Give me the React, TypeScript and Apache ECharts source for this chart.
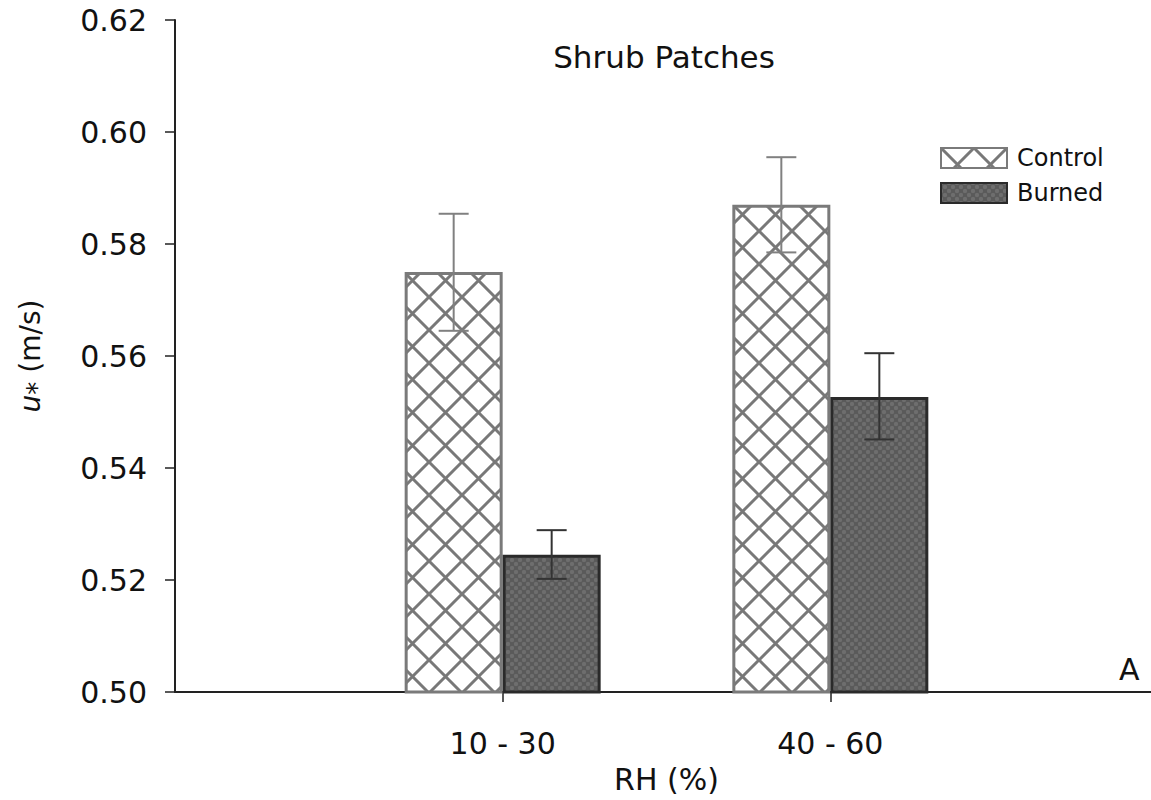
import React, { useEffect, useRef } from "react";
import * as echarts from "echarts";

const categories = ["", "10 - 30", "40 - 60", ""];
const controlValues = [null, 0.575, 0.587, null];
const burnedValues = [null, 0.5245, 0.5527, null];
const controlErr = [
  [1, 0.5645, 0.5854],
  [2, 0.5785, 0.5955],
];
const burnedErr = [
  [1, 0.5202, 0.5289],
  [2, 0.5451, 0.5605],
];
const yTicks = { min: 0.5, max: 0.62, interval: 0.02 };

const FONT = "DejaVu Sans";

function makeHatch(): HTMLCanvasElement {
  const P = 33;
  const c = document.createElement("canvas");
  c.width = P;
  c.height = P;
  const ctx = c.getContext("2d")!;
  ctx.fillStyle = "#ffffff";
  ctx.fillRect(0, 0, P, P);
  ctx.strokeStyle = "#787878";
  ctx.lineWidth = 3;
  for (let k = -1; k <= 1; k++) {
    ctx.beginPath();
    ctx.moveTo(k * P, 0);
    ctx.lineTo(k * P + P, P);
    ctx.moveTo(k * P + P, 0);
    ctx.lineTo(k * P, P);
    ctx.stroke();
  }
  return c;
}

function makeDots(): HTMLCanvasElement {
  const P = 8;
  const c = document.createElement("canvas");
  c.width = P;
  c.height = P;
  const ctx = c.getContext("2d")!;
  ctx.fillStyle = "#5a5a5a";
  ctx.fillRect(0, 0, P, P);
  ctx.fillStyle = "#6e6e6e";
  const pts = [
    [P / 2, P / 2],
    [0, 0],
    [P, 0],
    [0, P],
    [P, P],
  ];
  for (const [x, y] of pts) {
    ctx.beginPath();
    ctx.arc(x, y, 2.2, 0, Math.PI * 2);
    ctx.fill();
  }
  return c;
}

function errorSeries(name: string, data: number[][], offset: number, color: string) {
  return {
    type: "custom",
    name: name + " err",
    data,
    z: 10,
    silent: true,
    encode: { x: 0, y: [1, 2] },
    renderItem: (params: any, api: any) => {
      const idx = api.value(0);
      const lo = api.coord([idx, api.value(1)]);
      const hi = api.coord([idx, api.value(2)]);
      const x = lo[0] + offset;
      const half = 15;
      const style = { stroke: color, lineWidth: 2 };
      return {
        type: "group",
        children: [
          { type: "line", shape: { x1: x, y1: lo[1], x2: x, y2: hi[1] }, style },
          { type: "line", shape: { x1: x - half, y1: hi[1], x2: x + half, y2: hi[1] }, style },
          { type: "line", shape: { x1: x - half, y1: lo[1], x2: x + half, y2: lo[1] }, style },
        ],
      };
    },
  };
}

export default function App() {
  const ref = useRef<HTMLDivElement>(null);
  useEffect(() => {
    if (!ref.current) return;
    const chart = echarts.init(ref.current, undefined, { renderer: "svg" });
    const hatch = makeHatch();
    const dots = makeDots();
    const showIdx = (i: number) => i === 1 || i === 2;
    chart.setOption({
      animation: false,
      backgroundColor: "#ffffff",
      textStyle: { fontFamily: FONT },
      grid: { left: 175, right: 0, top: 20, bottom: 108, containLabel: false },
      title: {
        text: "Shrub Patches",
        left: 659,
        top: 36,
        textAlign: "center",
        textStyle: { fontFamily: FONT, fontSize: 31, fontWeight: "normal", color: "#111" },
      },
      legend: {
        left: 935,
        top: 141,
        orient: "vertical",
        itemWidth: 66,
        itemHeight: 20,
        itemGap: 11,
        icon: "rect",
        data: ["Control", "Burned"],
        textStyle: { fontFamily: FONT, fontSize: 24, color: "#111", padding: [0, 0, 0, 5], lineHeight: 24 },
      },
      xAxis: {
        type: "category",
        data: categories,
        boundaryGap: false,
        name: "RH (%)",
        nameLocation: "middle",
        nameGap: 72,
        nameTextStyle: { fontFamily: FONT, fontSize: 30, color: "#111" },
        axisLine: { show: true, lineStyle: { color: "#222", width: 2 } },
        axisTick: { show: true, length: 10, interval: (i: number) => showIdx(i), lineStyle: { color: "#222", width: 1.5 } },
        axisLabel: {
          interval: (i: number) => showIdx(i),
          margin: 36,
          fontFamily: FONT,
          fontSize: 30,
          color: "#111",
        },
        splitLine: { show: false },
      },
      yAxis: {
        type: "value",
        min: yTicks.min,
        max: yTicks.max,
        interval: yTicks.interval,
        name: "{u|u}{s|*} (m/s)",
        nameLocation: "middle",
        nameGap: 125,
        nameTextStyle: {
          fontFamily: FONT,
          fontSize: 28,
          color: "#111",
          rich: {
            u: { fontFamily: FONT, fontSize: 28, fontStyle: "italic", color: "#111" },
            s: { fontFamily: FONT, fontSize: 26, color: "#111", verticalAlign: "bottom", padding: [14, 0, 0, 0] },
          },
        },
        axisLine: { show: true, lineStyle: { color: "#222", width: 2 } },
        axisTick: { show: true, length: 10, lineStyle: { color: "#222", width: 1.5 } },
        axisLabel: {
          margin: 28,
          fontFamily: FONT,
          fontSize: 30,
          color: "#111",
          formatter: (v: number) => v.toFixed(2),
        },
        splitLine: { show: false },
      },
      graphic: [
        {
          type: "text",
          left: 1119,
          top: 654,
          style: { text: "A", fontFamily: FONT, fontSize: 30, fill: "#111" },
        },
      ],
      series: [
        {
          type: "bar",
          name: "Control",
          data: controlValues,
          barWidth: 98,
          barGap: "0%",
          itemStyle: {
            color: { image: hatch, repeat: "repeat" },
            borderColor: "#7a7a7a",
            borderWidth: 3,
          },
        },
        {
          type: "bar",
          name: "Burned",
          data: burnedValues,
          barWidth: 98,
          barGap: "0%",
          itemStyle: {
            color: { image: dots, repeat: "repeat" },
            borderColor: "#2a2a2a",
            borderWidth: 3,
          },
        },
        errorSeries("Control", controlErr, -49, "#808080"),
        errorSeries("Burned", burnedErr, 49, "#333333"),
      ],
    });
    return () => chart.dispose();
  }, []);
  return (
    <div style={{ position: "fixed", left: 0, top: 0, width: 1151, height: 800, overflow: "hidden", background: "#fff" }}>
      <div ref={ref} style={{ position: "absolute", left: 0, top: 0, width: 1158, height: 800 }} />
    </div>
  );
}
